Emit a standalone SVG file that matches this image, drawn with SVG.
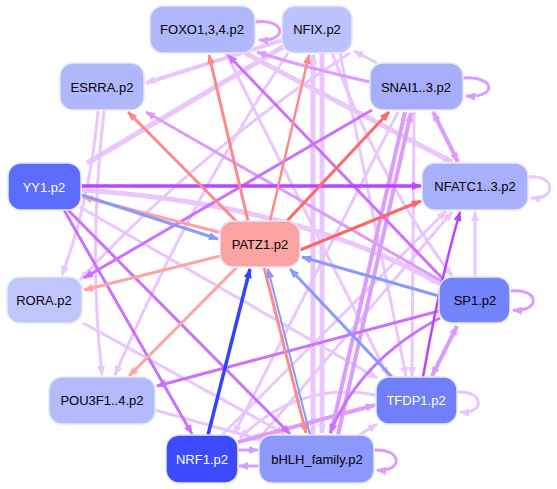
<svg xmlns="http://www.w3.org/2000/svg" width="557" height="489" viewBox="0 0 557 489">
<defs>
<style>
.e{fill:none;stroke-linecap:butt}
.n rect{stroke:#e4e8ff;stroke-width:1.5}
.n text{font-family:"Liberation Sans",Arial,sans-serif;font-size:13px;text-anchor:middle;dominant-baseline:central;fill:#000}
.n text.w{fill:#fff}
.red{stroke:#ff8888}.red2{stroke:#ff6666}.sal{stroke:#ffa4a0}
.blu{stroke:#8899ff}.dbl{stroke:#3344ff}
.p1{stroke:#bb44ff}.p2{stroke:#cc70ff}.p3{stroke:#dc9cff}.p4{stroke:#eac6ff}
</style>
<marker id="mred" viewBox="0 0 10 10" refX="9" refY="5" markerUnits="userSpaceOnUse" markerWidth="11" markerHeight="10" orient="auto-start-reverse"><path d="M0,1L10,5L0,9z" fill="#ff8888"/></marker>
<marker id="mred2" viewBox="0 0 10 10" refX="9" refY="5" markerUnits="userSpaceOnUse" markerWidth="11" markerHeight="10" orient="auto-start-reverse"><path d="M0,1L10,5L0,9z" fill="#ff6666"/></marker>
<marker id="msal" viewBox="0 0 10 10" refX="9" refY="5" markerUnits="userSpaceOnUse" markerWidth="11" markerHeight="10" orient="auto-start-reverse"><path d="M0,1L10,5L0,9z" fill="#ffa4a0"/></marker>
<marker id="mblu" viewBox="0 0 10 10" refX="9" refY="5" markerUnits="userSpaceOnUse" markerWidth="11" markerHeight="10" orient="auto-start-reverse"><path d="M0,1L10,5L0,9z" fill="#8899ff"/></marker>
<marker id="mdbl" viewBox="0 0 10 10" refX="9" refY="5" markerUnits="userSpaceOnUse" markerWidth="11" markerHeight="10" orient="auto-start-reverse"><path d="M0,1L10,5L0,9z" fill="#3344ff"/></marker>
<marker id="mp1" viewBox="0 0 10 10" refX="9" refY="5" markerUnits="userSpaceOnUse" markerWidth="11" markerHeight="10" orient="auto-start-reverse"><path d="M0,1L10,5L0,9z" fill="#bb44ff"/></marker>
<marker id="mp2" viewBox="0 0 10 10" refX="9" refY="5" markerUnits="userSpaceOnUse" markerWidth="11" markerHeight="10" orient="auto-start-reverse"><path d="M0,1L10,5L0,9z" fill="#cc70ff"/></marker>
<marker id="mp3" viewBox="0 0 10 10" refX="9" refY="5" markerUnits="userSpaceOnUse" markerWidth="11" markerHeight="10" orient="auto-start-reverse"><path d="M0,1L10,5L0,9z" fill="#dc9cff"/></marker>
<marker id="mp4" viewBox="0 0 10 10" refX="9" refY="5" markerUnits="userSpaceOnUse" markerWidth="11" markerHeight="10" orient="auto-start-reverse"><path d="M0,1L10,5L0,9z" fill="#eac6ff"/></marker>
</defs>
<rect width="557" height="489" fill="#fff"/>
<g id="connectors">
<!-- light purple background edges -->
<path class="e p4" stroke-width="5" d="M283,47 L87,163" marker-end="url(#mp4)"/>
<path class="e p4" stroke-width="4" d="M283,40 L146,83" marker-end="url(#mp4)"/>
<path class="e p4" stroke-width="3" d="M377,63 L354,51" marker-end="url(#mp4)"/>
<path class="e p4" stroke-width="5" d="M82,190 Q300,205 440,284" marker-end="url(#mp4)"/>
<path class="e p4" stroke-width="3" d="M80,207 L377,378" marker-end="url(#mp4)"/>
<path class="e p4" stroke-width="5" d="M245,53 L452,162" marker-end="url(#mp4)"/>
<path class="e p4" stroke-width="3" d="M226,53 L388,376" marker-end="url(#mp4)"/>
<path class="e p4" stroke-width="5" d="M313,435 L313,55" marker-end="url(#mp4)"/>
<path class="e p4" stroke-width="5" d="M322,53 L322,433" marker-end="url(#mp4)"/>
<path class="e p4" stroke-width="3" d="M288,53 Q190,200 115,375" marker-end="url(#mp4)"/>
<path class="e p4" stroke-width="3" d="M332,53 Q380,180 452,276" marker-end="url(#mp4)"/>
<path class="e p4" stroke-width="3" d="M340,53 L406,376" marker-end="url(#mp4)"/>
<path class="e p4" stroke-width="3" d="M350,53 Q200,150 80,280" marker-end="url(#mp4)"/>
<path class="e p4" stroke-width="3" d="M414,112 L412,376" marker-end="url(#mp4)"/>
<path class="e p4" stroke-width="3" d="M398,112 L234,434" marker-end="url(#mp4)"/>
<path class="e p4" stroke-width="3" d="M475,277 L475,212" marker-end="url(#mp4)"/>
<path class="e p4" stroke-width="3" d="M222,435 L446,211" marker-end="url(#mp4)"/>
<path class="e p4" stroke-width="3" d="M262,435 L452,212" marker-end="url(#mp4)"/>
<path class="e p4" stroke-width="3" d="M83,323 L285,434" marker-end="url(#mp4)"/>
<path class="e p4" stroke-width="3" d="M155,410 L262,440" marker-end="url(#mp4)"/>
<path class="e p4" stroke-width="3" d="M358,436 L377,424" marker-end="url(#mp4)"/>
<path class="e p4" stroke-width="3" d="M98,111 Q90,200 62,275" marker-end="url(#mp4)"/>
<path class="e p4" stroke-width="3" d="M104,111 Q88,250 102,375" marker-end="url(#mp4)"/>
<path class="e p4" stroke-width="3" d="M376,395 Q300,380 240,438" marker-end="url(#mp4)"/>
<!-- medium purple -->
<path class="e p3" stroke-width="4" d="M433,112 L458,162" marker-start="url(#mp3)" marker-end="url(#mp3)"/>
<path class="e p3" stroke-width="4" d="M457,326 L432,376" marker-start="url(#mp3)" marker-end="url(#mp3)"/>
<path class="e p3" stroke-width="4" d="M338,435 L411,113" marker-end="url(#mp3)"/>
<path class="e p3" stroke-width="4" d="M405,112 L331,433" marker-end="url(#mp3)"/>
<path class="e p3" stroke-width="3" d="M370,82 Q300,66 257,52" marker-end="url(#mp3)"/>
<path class="e p3" stroke-width="3" d="M238,450 L258,450" marker-end="url(#mp3)"/>
<path class="e p3" stroke-width="3" d="M259,466 L239,466" marker-end="url(#mp3)"/>
<path class="e p3" stroke-width="4" d="M238,442 L375,405" marker-end="url(#mp3)"/>
<path class="e p3" stroke-width="3" d="M443,282 L146,112" marker-end="url(#mp3)"/>
<!-- self loops -->
<path class="e p3" stroke-width="3" d="M255,22 C286,18 288,42 259,40" marker-end="url(#mp3)"/>
<path class="e p3" stroke-width="3" d="M463,78 C496,76 498,98 466,96" marker-end="url(#mp3)"/>
<path class="e p4" stroke-width="3" d="M528,177 C556,174 557,200 531,198" marker-end="url(#mp4)"/>
<path class="e p3" stroke-width="3" d="M510,291 C540,288 541,312 513,310" marker-end="url(#mp3)"/>
<path class="e p4" stroke-width="3" d="M457,392 C484,390 486,414 460,412" marker-end="url(#mp4)"/>
<path class="e p3" stroke-width="3" d="M374,450 C402,448 404,472 377,470" marker-end="url(#mp3)"/>
<!-- strong purple -->
<path class="e p2" stroke-width="3" d="M443,279 L228,55" marker-end="url(#mp2)"/>
<path class="e p2" stroke-width="3" d="M372,110 L84,278" marker-end="url(#mp2)"/>
<path class="e p2" stroke-width="3" d="M64,210 L192,434" marker-end="url(#mp2)"/>
<path class="e p2" stroke-width="3" d="M68,210 L290,434" marker-end="url(#mp2)"/>
<path class="e p2" stroke-width="3" d="M439,311 L157,386" marker-end="url(#mp2)"/>
<path class="e p2" stroke-width="3" d="M440,318 Q360,360 330,433" marker-end="url(#mp2)"/>
<path class="e p1" stroke-width="2.5" d="M423,377 Q440,280 460,212" marker-end="url(#mp1)"/>
<path class="e p1" stroke-width="3.5" d="M82,186 L421,186" marker-end="url(#mp1)"/>
<!-- PATZ1 out -->
<path class="e red" stroke-width="3" d="M248,221 L209,55" marker-end="url(#mred)"/>
<path class="e red" stroke-width="2.5" d="M270,221 L309,55" marker-end="url(#mred)"/>
<path class="e red2" stroke-width="3" d="M287,221 L389,112" marker-end="url(#mred2)"/>
<path class="e red" stroke-width="3" d="M236,221 L128,112" marker-end="url(#mred)"/>
<path class="e red2" stroke-width="3" d="M300,250 L421,201" marker-end="url(#mred2)"/>
<path class="e sal" stroke-width="3" d="M220,256 L84,290" marker-end="url(#msal)"/>
<path class="e sal" stroke-width="3" d="M222,233 L83,197" marker-end="url(#msal)"/>
<path class="e sal" stroke-width="3" d="M237,267 L129,376" marker-end="url(#msal)"/>
<path class="e red" stroke-width="3" d="M264,267 L306,433" marker-end="url(#mred)"/>
<!-- into PATZ1 -->
<path class="e blu" stroke-width="3" d="M82,195 L218,239" marker-end="url(#mblu)"/>
<path class="e blu" stroke-width="3" d="M439,296 L302,257" marker-end="url(#mblu)"/>
<path class="e blu" stroke-width="3" d="M392,377 L290,269" marker-end="url(#mblu)"/>
<path class="e blu" stroke-width="2" d="M310,435 L268,269" marker-end="url(#mblu)"/>
<path class="e dbl" stroke-width="3.5" d="M208,435 L250,269" marker-end="url(#mdbl)"/>
</g>
<g id="node-FOXO" class="n"><rect x="150" y="6" width="105" height="47" rx="13" fill="#b0b8fc"/><text x="202" y="29">FOXO1,3,4.p2</text></g>
<g id="node-NFIX" class="n"><rect x="282" y="6" width="70" height="47" rx="13" fill="#bcc2fc"/><text x="317" y="29">NFIX.p2</text></g>
<g id="node-ESRRA" class="n"><rect x="60" y="63" width="84" height="47" rx="13" fill="#b0b8fc"/><text x="102" y="87">ESRRA.p2</text></g>
<g id="node-SNAI" class="n"><rect x="370" y="63" width="93" height="47" rx="13" fill="#a6aefc"/><text x="416" y="87">SNAI1..3.p2</text></g>
<g id="node-YY1" class="n"><rect x="8" y="163" width="73" height="47" rx="13" fill="#5c6cfc"/><text class="w" x="44" y="187">YY1.p2</text></g>
<g id="node-NFATC" class="n"><rect x="422" y="163" width="106" height="47" rx="13" fill="#a8b0fc"/><text x="475" y="186">NFATC1..3.p2</text></g>
<g id="node-PATZ1" class="n"><rect x="220" y="221" width="80" height="46" rx="13" fill="#fca4a4"/><text x="260" y="244">PATZ1.p2</text></g>
<g id="node-RORA" class="n"><rect x="7" y="277" width="75" height="46" rx="13" fill="#c0c6fc"/><text x="44" y="300">RORA.p2</text></g>
<g id="node-SP1" class="n"><rect x="439" y="277" width="71" height="46" rx="13" fill="#7484fc"/><text x="475" y="300">SP1.p2</text></g>
<g id="node-POU3F" class="n"><rect x="49" y="377" width="106" height="47" rx="13" fill="#b4bafc"/><text x="102" y="400">POU3F1..4.p2</text></g>
<g id="node-TFDP1" class="n"><rect x="376" y="377" width="81" height="47" rx="13" fill="#7080fc"/><text class="w" x="416" y="400">TFDP1.p2</text></g>
<g id="node-NRF1" class="n"><rect x="166" y="435" width="72" height="48" rx="13" fill="#3a4afc"/><text class="w" x="202" y="459">NRF1.p2</text></g>
<g id="node-bHLH" class="n"><rect x="259" y="435" width="115" height="48" rx="13" fill="#8c98fc"/><text x="317" y="459">bHLH_family.p2</text></g>
</svg>
